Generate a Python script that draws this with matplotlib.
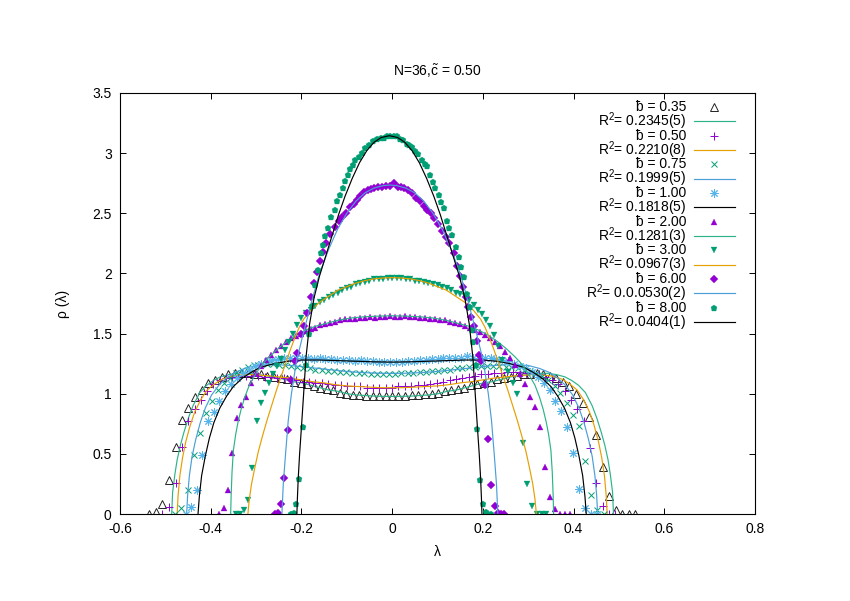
import matplotlib
matplotlib.use("Agg")
import matplotlib.pyplot as plt
from matplotlib.lines import Line2D

plt.rcParams['font.family'] = ['Liberation Sans', 'DejaVu Sans']
plt.rcParams['mathtext.fontset'] = 'custom'
plt.rcParams['mathtext.rm'] = 'Liberation Sans'
plt.rcParams['mathtext.it'] = 'Liberation Sans:italic'
plt.rcParams['mathtext.default'] = 'regular'
plt.rcParams['axes.unicode_minus'] = False

# ---------------- data ----------------
x_ticks = [-0.6, -0.4, -0.2, 0.0, 0.2, 0.4, 0.6, 0.8]
x_tick_labels = ["-0.6", "-0.4", "-0.2", "0", "0.2", "0.4", "0.6", "0.8"]
y_ticks = [0, 0.5, 1, 1.5, 2, 2.5, 3, 3.5]
y_tick_labels = ["0", "0.5", "1", "1.5", "2", "2.5", "3", "3.5"]

b_labels = ["0.35", "0.50", "0.75", "1.00", "2.00", "3.00", "6.00", "8.00"]
r2_labels = ["0.2345(5)", "0.2210(8)", "0.1999(5)", "0.1818(5)",
             "0.1281(3)", "0.0967(3)", "0.0.0530(2)", "0.0404(1)"]

# b = 0.35 (data)
lam_b035 = [-0.536, -0.521, -0.507, -0.492, -0.477, -0.463, -0.449, -0.434, -0.420, -0.405,
            -0.391, -0.376, -0.362, -0.347, -0.333, -0.318, -0.304, -0.289, -0.275, -0.260,
            -0.246, -0.231, -0.217, -0.202, -0.188, -0.173, -0.159, -0.144, -0.130, -0.115,
            -0.101, -0.087, -0.072, -0.058, -0.043, -0.029, -0.014, 0.000, 0.014, 0.029,
            0.043, 0.058, 0.072, 0.087, 0.101, 0.116, 0.130, 0.145, 0.159, 0.174,
            0.188, 0.203, 0.217, 0.232, 0.246, 0.261, 0.275, 0.290, 0.304, 0.319,
            0.333, 0.348, 0.362, 0.377, 0.391, 0.406, 0.420, 0.435, 0.449, 0.464,
            0.478, 0.493, 0.507, 0.522, 0.536]
rho_b035 = [0.00, 0.02, 0.08, 0.28, 0.56, 0.78, 0.88, 0.97, 1.03, 1.09,
            1.11, 1.14, 1.16, 1.17, 1.17, 1.17, 1.16, 1.16, 1.15, 1.14,
            1.13, 1.12, 1.10, 1.09, 1.08, 1.06, 1.05, 1.04, 1.03, 1.01,
            1.00, 0.99, 0.99, 0.98, 0.98, 0.98, 0.98, 0.98, 0.98, 0.98,
            0.99, 0.99, 1.00, 1.00, 1.01, 1.02, 1.03, 1.04, 1.05, 1.07,
            1.08, 1.09, 1.10, 1.12, 1.13, 1.14, 1.15, 1.16, 1.16, 1.17,
            1.16, 1.15, 1.13, 1.10, 1.06, 1.00, 0.92, 0.81, 0.66, 0.39,
            0.15, 0.03, 0.00, 0.00, 0.00]
# b = 0.35 (fit)
fit_lam_b035 = [-0.486, -0.484, -0.479, -0.474, -0.467, -0.459, -0.449, -0.439, -0.424, -0.409,
                -0.394, -0.379, -0.359, -0.339, -0.319, -0.299, -0.279, -0.259, -0.239, -0.219,
                -0.199, -0.179, -0.159, -0.139, -0.119, -0.099, -0.079, -0.059, -0.039, -0.019,
                0.001, 0.021, 0.041, 0.061, 0.081, 0.101, 0.121, 0.141, 0.161, 0.181,
                0.201, 0.221, 0.241, 0.261, 0.281, 0.301, 0.321, 0.341, 0.361, 0.381,
                0.396, 0.411, 0.426, 0.441, 0.451, 0.461, 0.469, 0.476, 0.481, 0.486, 0.488]
fit_rho_b035 = [0.00, 0.18, 0.33, 0.45, 0.57, 0.68, 0.80, 0.90, 1.01, 1.07,
                1.11, 1.14, 1.16, 1.17, 1.17, 1.16, 1.15, 1.14, 1.12, 1.10,
                1.09, 1.07, 1.05, 1.03, 1.02, 1.00, 0.99, 0.985, 0.98, 0.978,
                0.977, 0.978, 0.98, 0.985, 0.99, 1.00, 1.02, 1.03, 1.05, 1.07,
                1.09, 1.10, 1.12, 1.14, 1.15, 1.16, 1.17, 1.17, 1.16, 1.14,
                1.11, 1.07, 1.01, 0.90, 0.80, 0.68, 0.57, 0.45, 0.33, 0.18, 0.00]

# b = 0.50 (data)
lam_b050 = [-0.507, -0.492, -0.477, -0.463, -0.449, -0.435, -0.422, -0.408, -0.394, -0.380,
            -0.366, -0.352, -0.338, -0.323, -0.309, -0.295, -0.281, -0.267, -0.253, -0.239,
            -0.225, -0.211, -0.197, -0.183, -0.169, -0.155, -0.141, -0.127, -0.113, -0.099,
            -0.084, -0.070, -0.056, -0.042, -0.028, -0.014, 0.000, 0.014, 0.028, 0.042,
            0.056, 0.070, 0.084, 0.099, 0.113, 0.127, 0.141, 0.155, 0.169, 0.183,
            0.197, 0.211, 0.225, 0.239, 0.253, 0.267, 0.281, 0.295, 0.309, 0.323,
            0.338, 0.352, 0.366, 0.380, 0.394, 0.408, 0.422, 0.436, 0.450, 0.464,
            0.478, 0.492]
rho_b050 = [0.00, 0.06, 0.26, 0.56, 0.77, 0.87, 0.95, 1.02, 1.08, 1.11,
            1.13, 1.14, 1.15, 1.15, 1.15, 1.15, 1.14, 1.14, 1.13, 1.13,
            1.12, 1.11, 1.10, 1.10, 1.09, 1.09, 1.08, 1.07, 1.07, 1.06,
            1.06, 1.06, 1.05, 1.05, 1.05, 1.05, 1.05, 1.06, 1.06, 1.06,
            1.07, 1.07, 1.08, 1.09, 1.10, 1.11, 1.12, 1.13, 1.14, 1.15,
            1.16, 1.16, 1.17, 1.17, 1.18, 1.18, 1.18, 1.17, 1.17, 1.16,
            1.14, 1.11, 1.08, 1.02, 0.95, 0.87, 0.77, 0.55, 0.26, 0.07,
            0.00, 0.00]
# b = 0.50 (fit)
fit_lam_b050 = [-0.474, -0.472, -0.468, -0.462, -0.455, -0.445, -0.435, -0.422, -0.408, -0.392,
                -0.375, -0.355, -0.335, -0.315, -0.295, -0.275, -0.250, -0.225, -0.200, -0.175,
                -0.150, -0.125, -0.100, -0.075, -0.050, -0.025, 0.000, 0.025, 0.050, 0.075,
                0.100, 0.125, 0.150, 0.175, 0.200, 0.225, 0.250, 0.275, 0.295, 0.315,
                0.335, 0.355, 0.375, 0.392, 0.408, 0.422, 0.435, 0.445, 0.455, 0.462,
                0.468, 0.472, 0.474]
fit_rho_b050 = [0.00, 0.15, 0.32, 0.47, 0.60, 0.74, 0.85, 0.95, 1.03, 1.08,
                1.12, 1.145, 1.155, 1.16, 1.155, 1.15, 1.14, 1.13, 1.115, 1.10,
                1.09, 1.075, 1.065, 1.06, 1.055, 1.05, 1.05, 1.05, 1.055, 1.06,
                1.065, 1.075, 1.09, 1.10, 1.115, 1.13, 1.14, 1.15, 1.155, 1.16,
                1.155, 1.145, 1.12, 1.08, 1.03, 0.95, 0.85, 0.74, 0.60, 0.47,
                0.32, 0.15, 0.00]

# b = 0.75 (data)
lam_b075 = [-0.479, -0.465, -0.451, -0.437, -0.424, -0.411, -0.398, -0.385, -0.371, -0.358,
            -0.344, -0.331, -0.317, -0.304, -0.290, -0.277, -0.263, -0.250, -0.236, -0.223,
            -0.209, -0.196, -0.182, -0.169, -0.155, -0.142, -0.128, -0.115, -0.101, -0.088,
            -0.074, -0.061, -0.047, -0.034, -0.020, -0.007, 0.007, 0.020, 0.034, 0.047,
            0.061, 0.074, 0.088, 0.101, 0.115, 0.128, 0.142, 0.155, 0.169, 0.182,
            0.196, 0.209, 0.223, 0.236, 0.250, 0.263, 0.277, 0.290, 0.304, 0.317,
            0.331, 0.344, 0.358, 0.371, 0.385, 0.398, 0.412, 0.425, 0.439, 0.452,
            0.466]
rho_b075 = [0.00, 0.05, 0.20, 0.49, 0.67, 0.84, 0.94, 1.03, 1.09, 1.13,
            1.17, 1.20, 1.22, 1.24, 1.25, 1.25, 1.25, 1.24, 1.24, 1.23,
            1.22, 1.21, 1.21, 1.20, 1.20, 1.19, 1.19, 1.18, 1.18, 1.17,
            1.17, 1.17, 1.16, 1.16, 1.16, 1.16, 1.16, 1.17, 1.17, 1.17,
            1.18, 1.18, 1.19, 1.19, 1.20, 1.20, 1.21, 1.21, 1.22, 1.22,
            1.23, 1.23, 1.23, 1.23, 1.22, 1.22, 1.21, 1.20, 1.19, 1.17,
            1.15, 1.11, 1.06, 1.01, 0.92, 0.82, 0.73, 0.44, 0.16, 0.03,
            0.00]
# b = 0.75 (fit)
fit_lam_b075 = [-0.453, -0.451, -0.447, -0.441, -0.433, -0.423, -0.412, -0.398, -0.382, -0.365,
                -0.345, -0.325, -0.300, -0.275, -0.250, -0.225, -0.200, -0.175, -0.150, -0.125,
                -0.100, -0.075, -0.050, -0.025, 0.000, 0.025, 0.050, 0.075, 0.100, 0.125,
                0.150, 0.175, 0.200, 0.225, 0.250, 0.275, 0.300, 0.325, 0.345, 0.365,
                0.382, 0.398, 0.412, 0.423, 0.433, 0.441, 0.447, 0.451, 0.453]
fit_rho_b075 = [0.00, 0.15, 0.32, 0.48, 0.62, 0.76, 0.88, 0.99, 1.07, 1.13,
                1.18, 1.21, 1.235, 1.24, 1.24, 1.235, 1.225, 1.215, 1.205, 1.195,
                1.185, 1.178, 1.173, 1.17, 1.169, 1.17, 1.173, 1.178, 1.185, 1.195,
                1.205, 1.215, 1.225, 1.235, 1.24, 1.24, 1.235, 1.21, 1.18, 1.13,
                1.07, 0.99, 0.88, 0.76, 0.62, 0.48, 0.32, 0.15, 0.00]

# b = 1.00 (data)
lam_b100 = [-0.455, -0.443, -0.431, -0.419, -0.406, -0.393, -0.381, -0.368, -0.355, -0.342,
            -0.329, -0.316, -0.303, -0.290, -0.277, -0.264, -0.251, -0.238, -0.225, -0.212,
            -0.199, -0.186, -0.173, -0.160, -0.147, -0.134, -0.121, -0.108, -0.095, -0.082,
            -0.069, -0.056, -0.043, -0.030, -0.017, -0.004, 0.009, 0.022, 0.035, 0.048,
            0.061, 0.074, 0.087, 0.100, 0.113, 0.126, 0.139, 0.152, 0.165, 0.178,
            0.191, 0.204, 0.217, 0.230, 0.243, 0.256, 0.269, 0.282, 0.295, 0.308,
            0.321, 0.334, 0.347, 0.360, 0.373, 0.386, 0.399, 0.412, 0.425, 0.438,
            0.451]
rho_b100 = [0.00, 0.06, 0.20, 0.49, 0.77, 0.85, 0.94, 1.02, 1.08, 1.13,
            1.17, 1.20, 1.23, 1.25, 1.27, 1.28, 1.29, 1.30, 1.30, 1.30,
            1.30, 1.30, 1.29, 1.30, 1.29, 1.29, 1.28, 1.28, 1.28, 1.27,
            1.28, 1.27, 1.27, 1.26, 1.26, 1.26, 1.26, 1.26, 1.27, 1.27,
            1.28, 1.28, 1.29, 1.29, 1.30, 1.30, 1.30, 1.30, 1.31, 1.30,
            1.30, 1.30, 1.30, 1.29, 1.28, 1.27, 1.25, 1.23, 1.21, 1.18,
            1.14, 1.09, 1.03, 0.94, 0.86, 0.72, 0.51, 0.21, 0.05, 0.00,
            0.00]
# b = 1.00 (fit)
fit_lam_b100 = [-0.428, -0.425, -0.420, -0.412, -0.403, -0.393, -0.380, -0.365, -0.350, -0.330,
                -0.310, -0.290, -0.260, -0.230, -0.200, -0.160, -0.120, -0.080, -0.040, 0.000,
                0.040, 0.080, 0.120, 0.160, 0.200, 0.230, 0.260, 0.290, 0.310, 0.330,
                0.350, 0.365, 0.380, 0.393, 0.403, 0.412, 0.420, 0.425, 0.428]
fit_rho_b100 = [0.00, 0.15, 0.32, 0.48, 0.63, 0.76, 0.88, 0.98, 1.06, 1.13,
                1.18, 1.22, 1.25, 1.27, 1.28, 1.28, 1.275, 1.27, 1.265, 1.263,
                1.265, 1.27, 1.275, 1.28, 1.28, 1.27, 1.25, 1.22, 1.18, 1.13,
                1.06, 0.98, 0.88, 0.76, 0.63, 0.48, 0.32, 0.15, 0.00]

# b = 2.00 (data)
lam_b200 = [-0.382, -0.371, -0.362, -0.352, -0.343, -0.333, -0.323, -0.312, -0.301, -0.290,
            -0.279, -0.268, -0.257, -0.246, -0.235, -0.224, -0.213, -0.202, -0.191, -0.180,
            -0.169, -0.158, -0.147, -0.136, -0.125, -0.114, -0.103, -0.092, -0.081, -0.070,
            -0.059, -0.048, -0.037, -0.026, -0.015, -0.004, 0.007, 0.018, 0.029, 0.040,
            0.051, 0.062, 0.073, 0.084, 0.095, 0.106, 0.117, 0.128, 0.139, 0.150,
            0.161, 0.172, 0.183, 0.194, 0.205, 0.216, 0.227, 0.238, 0.249, 0.260,
            0.271, 0.282, 0.293, 0.304, 0.315, 0.326, 0.337, 0.348, 0.359, 0.370,
            0.381, 0.392]
rho_b200 = [0.00, 0.05, 0.20, 0.51, 0.80, 0.91, 0.97, 1.09, 1.17, 1.23,
            1.28, 1.32, 1.36, 1.40, 1.43, 1.46, 1.48, 1.50, 1.52, 1.54,
            1.55, 1.57, 1.58, 1.59, 1.60, 1.61, 1.62, 1.62, 1.62, 1.63,
            1.63, 1.64, 1.63, 1.64, 1.64, 1.65, 1.64, 1.64, 1.65, 1.64,
            1.64, 1.63, 1.63, 1.62, 1.62, 1.61, 1.61, 1.60, 1.59, 1.58,
            1.56, 1.55, 1.53, 1.51, 1.49, 1.46, 1.43, 1.40, 1.35, 1.30,
            1.24, 1.16, 1.08, 0.97, 0.89, 0.72, 0.39, 0.14, 0.04, 0.00,
            0.00, 0.00]
# b = 2.00 (fit)
fit_lam_b200 = [-0.356, -0.355, -0.353, -0.350, -0.345, -0.340, -0.333, -0.325, -0.315, -0.300,
                -0.285, -0.270, -0.250, -0.230, -0.210, -0.190, -0.170, -0.150, -0.120, -0.090,
                -0.060, -0.030, 0.000, 0.030, 0.060, 0.090, 0.120, 0.150, 0.170, 0.190,
                0.210, 0.230, 0.250, 0.270, 0.285, 0.300, 0.315, 0.325, 0.333, 0.340,
                0.345, 0.350, 0.353, 0.355, 0.356]
fit_rho_b200 = [0.00, 0.15, 0.35, 0.53, 0.66, 0.76, 0.87, 0.97, 1.07, 1.17,
                1.25, 1.31, 1.38, 1.44, 1.49, 1.53, 1.56, 1.58, 1.61, 1.63,
                1.64, 1.645, 1.648, 1.645, 1.64, 1.63, 1.61, 1.58, 1.56, 1.53,
                1.49, 1.44, 1.38, 1.31, 1.25, 1.17, 1.07, 0.97, 0.87, 0.76,
                0.66, 0.53, 0.35, 0.15, 0.00]

# b = 3.00 (data)
lam_b300 = [-0.345, -0.335, -0.327, -0.318, -0.308, -0.299, -0.290, -0.281, -0.272, -0.263,
            -0.254, -0.245, -0.236, -0.227, -0.218, -0.209, -0.200, -0.190, -0.180, -0.170,
            -0.160, -0.150, -0.140, -0.130, -0.120, -0.110, -0.100, -0.090, -0.080, -0.070,
            -0.060, -0.050, -0.040, -0.030, -0.020, -0.010, 0.000, 0.010, 0.020, 0.030,
            0.040, 0.050, 0.060, 0.070, 0.080, 0.090, 0.100, 0.110, 0.120, 0.130,
            0.140, 0.150, 0.160, 0.170, 0.180, 0.190, 0.198, 0.207, 0.216, 0.225,
            0.234, 0.243, 0.255, 0.267, 0.276, 0.289, 0.298, 0.309, 0.320, 0.330,
            0.340]
rho_b300 = [0.00, 0.00, 0.03, 0.12, 0.38, 0.77, 0.92, 1.01, 1.09, 1.16,
            1.23, 1.29, 1.36, 1.43, 1.50, 1.57, 1.63, 1.67, 1.70, 1.73,
            1.76, 1.78, 1.80, 1.82, 1.84, 1.86, 1.88, 1.89, 1.91, 1.92,
            1.93, 1.94, 1.95, 1.95, 1.95, 1.96, 1.96, 1.96, 1.96, 1.95,
            1.95, 1.94, 1.94, 1.93, 1.92, 1.91, 1.90, 1.89, 1.88, 1.86,
            1.84, 1.83, 1.81, 1.78, 1.74, 1.70, 1.66, 1.61, 1.56, 1.49,
            1.40, 1.28, 1.18, 1.09, 1.00, 0.59, 0.25, 0.07, 0.00, 0.00,
            0.00]
# b = 3.00 (fit)
fit_lam_b300 = [-0.318, -0.315, -0.310, -0.303, -0.295, -0.285, -0.275, -0.265, -0.255, -0.245,
                -0.235, -0.225, -0.215, -0.205, -0.195, -0.180, -0.160, -0.140, -0.120, -0.100,
                -0.080, -0.060, -0.040, -0.020, 0.000, 0.020, 0.040, 0.060, 0.080, 0.100,
                0.120, 0.140, 0.160, 0.180, 0.195, 0.205, 0.215, 0.225, 0.235, 0.245,
                0.255, 0.265, 0.275, 0.285, 0.295, 0.303, 0.310, 0.315, 0.318]
fit_rho_b300 = [0.00, 0.12, 0.25, 0.38, 0.52, 0.66, 0.79, 0.91, 1.03, 1.14,
                1.25, 1.36, 1.46, 1.55, 1.62, 1.69, 1.76, 1.81, 1.86, 1.89,
                1.92, 1.94, 1.955, 1.962, 1.965, 1.962, 1.955, 1.94, 1.92, 1.89,
                1.86, 1.81, 1.76, 1.69, 1.62, 1.55, 1.46, 1.36, 1.25, 1.14,
                1.03, 0.91, 0.79, 0.66, 0.52, 0.38, 0.25, 0.12, 0.00]

# b = 6.00 (data)
lam_b600 = [-0.258, -0.252, -0.245, -0.238, -0.230, -0.224, -0.215, -0.209, -0.202, -0.195,
            -0.188, -0.180, -0.172, -0.165, -0.158, -0.152, -0.146, -0.136, -0.126, -0.117,
            -0.110, -0.102, -0.092, -0.085, -0.077, -0.070, -0.062, -0.054, -0.047, -0.040,
            -0.031, -0.022, -0.013, -0.004, 0.004, 0.012, 0.019, 0.026, 0.035, 0.044,
            0.053, 0.062, 0.070, 0.077, 0.085, 0.092, 0.101, 0.110, 0.118, 0.125,
            0.136, 0.143, 0.150, 0.156, 0.162, 0.167, 0.174, 0.180, 0.186, 0.192,
            0.197, 0.204, 0.212, 0.219, 0.226, 0.233, 0.240, 0.247]
rho_b600 = [0.00, 0.01, 0.08, 0.30, 0.70, 1.11, 1.27, 1.34, 1.50, 1.56,
            1.67, 1.80, 1.92, 2.01, 2.10, 2.18, 2.25, 2.33, 2.39, 2.44,
            2.47, 2.50, 2.55, 2.58, 2.61, 2.64, 2.68, 2.69, 2.70, 2.71,
            2.72, 2.72, 2.73, 2.73, 2.75, 2.72, 2.72, 2.71, 2.69, 2.67,
            2.63, 2.60, 2.56, 2.53, 2.50, 2.46, 2.41, 2.35, 2.30, 2.25,
            2.17, 2.06, 1.98, 1.89, 1.80, 1.72, 1.64, 1.56, 1.44, 1.32,
            1.27, 1.07, 0.62, 0.24, 0.07, 0.01, 0.00, 0.00]
# b = 6.00 (fit)
fit_lam_b600 = [-0.243, -0.240, -0.235, -0.229, -0.222, -0.211, -0.196, -0.178, -0.160, -0.140,
                -0.120, -0.100, -0.080, -0.060, -0.040, -0.020, -0.005, 0.010, 0.030, 0.050,
                0.070, 0.090, 0.110, 0.130, 0.150, 0.168, 0.186, 0.201, 0.212, 0.219,
                0.225, 0.230, 0.233]
fit_rho_b600 = [0.00, 0.25, 0.50, 0.78, 1.00, 1.27, 1.50, 1.76, 2.00, 2.20,
                2.37, 2.50, 2.60, 2.67, 2.71, 2.73, 2.735, 2.73, 2.71, 2.67,
                2.60, 2.50, 2.37, 2.20, 2.00, 1.76, 1.50, 1.27, 1.00, 0.78,
                0.50, 0.25, 0.00]

# b = 8.00 (data)
lam_b800 = [-0.223, -0.217, -0.211, -0.205, -0.197, -0.190, -0.183, -0.176, -0.169, -0.163,
            -0.157, -0.152, -0.147, -0.141, -0.134, -0.127, -0.121, -0.116, -0.109, -0.103,
            -0.097, -0.092, -0.086, -0.081, -0.073, -0.066, -0.059, -0.051, -0.042, -0.033,
            -0.025, -0.018, -0.011, -0.004, 0.003, 0.010, 0.017, 0.024, 0.032, 0.038,
            0.043, 0.050, 0.057, 0.066, 0.072, 0.077, 0.084, 0.090, 0.095, 0.103,
            0.108, 0.114, 0.121, 0.126, 0.132, 0.140, 0.147, 0.152, 0.158, 0.165,
            0.172, 0.176, 0.178, 0.184, 0.188, 0.193, 0.200, 0.206, 0.212, 0.218]
rho_b800 = [0.00, 0.01, 0.08, 0.29, 0.72, 1.24, 1.50, 1.73, 1.90, 2.03,
            2.17, 2.24, 2.31, 2.38, 2.47, 2.53, 2.60, 2.65, 2.71, 2.77,
            2.82, 2.87, 2.90, 2.94, 2.97, 3.00, 3.04, 3.07, 3.10, 3.12,
            3.13, 3.13, 3.14, 3.14, 3.14, 3.14, 3.12, 3.11, 3.08, 3.07,
            3.05, 3.02, 2.99, 2.94, 2.91, 2.89, 2.82, 2.76, 2.71, 2.65,
            2.59, 2.54, 2.44, 2.38, 2.32, 2.22, 2.14, 2.05, 1.97, 1.83,
            1.72, 1.53, 1.43, 1.24, 0.71, 0.28, 0.08, 0.02, 0.00, 0.00]
# b = 8.00 (fit)
fit_lam_b800 = [-0.210, -0.209, -0.207, -0.204, -0.200, -0.196, -0.190, -0.182, -0.172, -0.160,
                -0.146, -0.132, -0.118, -0.104, -0.088, -0.072, -0.056, -0.040, -0.024, -0.006,
                0.012, 0.028, 0.044, 0.060, 0.076, 0.092, 0.106, 0.120, 0.134, 0.148,
                0.160, 0.170, 0.178, 0.184, 0.188, 0.192, 0.195, 0.197, 0.198]
fit_rho_b800 = [0.00, 0.12, 0.30, 0.50, 0.72, 0.95, 1.30, 1.58, 1.80, 1.98,
                2.15, 2.32, 2.49, 2.64, 2.79, 2.92, 3.02, 3.09, 3.13, 3.145,
                3.13, 3.09, 3.02, 2.92, 2.79, 2.64, 2.49, 2.32, 2.15, 1.98,
                1.80, 1.58, 1.30, 0.95, 0.72, 0.50, 0.30, 0.12, 0.00]

# ---------------- styles ----------------
PURPLE = '#9400d3'
GREEN = '#009e73'
SKY = '#56b4e9'
ORANGE = '#e69f00'
BLUE = '#4a9fd8'
TEAL = '#2db38a'

series = [
    (lam_b035, rho_b035, fit_lam_b035, fit_rho_b035,
     dict(marker='^', ms=5.5, mfc='none', mec='#222222', mew=0.7), TEAL),
    (lam_b050, rho_b050, fit_lam_b050, fit_rho_b050,
     dict(marker='+', ms=6, mec=PURPLE, mew=0.7), ORANGE),
    (lam_b075, rho_b075, fit_lam_b075, fit_rho_b075,
     dict(marker='x', ms=4.8, mec=GREEN, mew=0.7), BLUE),
    (lam_b100, rho_b100, fit_lam_b100, fit_rho_b100,
     dict(marker=(8, 2, 0), ms=6, mec=SKY, mew=0.7), 'black'),
    (lam_b200, rho_b200, fit_lam_b200, fit_rho_b200,
     dict(marker='^', ms=5, mfc=PURPLE, mec=PURPLE, mew=0.2), TEAL),
    (lam_b300, rho_b300, fit_lam_b300, fit_rho_b300,
     dict(marker='v', ms=5, mfc=GREEN, mec=GREEN, mew=0.2), ORANGE),
    (lam_b600, rho_b600, fit_lam_b600, fit_rho_b600,
     dict(marker='D', ms=3.8, mfc=PURPLE, mec=PURPLE, mew=0.2), BLUE),
    (lam_b800, rho_b800, fit_lam_b800, fit_rho_b800,
     dict(marker='p', ms=4.8, mfc=GREEN, mec=GREEN, mew=0.2), 'black'),
]

fig = plt.figure(figsize=(8.5, 6.01), dpi=100)
ax = fig.add_axes([120 / 850, 87 / 601, 635 / 850, 421 / 601])

for lx, ly, fx, fy, mstyle, lcol in series:
    ax.plot(lx, ly, linestyle='none', **mstyle)
    ax.plot(fx, fy, color=lcol, lw=0.85)

ax.set_xlim(-0.6, 0.8)
ax.set_ylim(0, 3.5)
ax.set_xticks(x_ticks)
ax.set_xticklabels(x_tick_labels, fontsize=10)
ax.set_yticks(y_ticks)
ax.set_yticklabels(y_tick_labels, fontsize=10)
ax.tick_params(direction='in', length=4.5, width=0.7, top=True, right=True, pad=6)
for sp in ax.spines.values():
    sp.set_linewidth(0.8)

ax.set_xlabel('λ', fontsize=10, labelpad=6)
ax.set_ylabel('ρ (λ)', fontsize=10, labelpad=16)
ax.set_title(r'N=36,$\tilde{c}$ = 0.50', fontsize=10, pad=12)

# legend (gnuplot style: right-justified labels, sample on the right)
row0 = (514 - 107) / 421
drow = 14.33 / 421
tx = (686 - 120) / 635
mx = (714 - 120) / 635
lx0, lx1 = (694 - 120) / 635, (735 - 120) / 635
for i, (lx, ly, fx, fy, mstyle, lcol) in enumerate(series):
    y1 = row0 - (2 * i) * drow
    y2 = row0 - (2 * i + 1) * drow
    ax.text(tx, y1, '\u0180 = ' + b_labels[i], transform=ax.transAxes,
            ha='right', va='center', fontsize=10)
    ax.add_line(Line2D([mx], [y1], transform=ax.transAxes, linestyle='none', **mstyle))
    ax.text(tx, y2, 'R$^2$= ' + r2_labels[i], transform=ax.transAxes,
            ha='right', va='center', fontsize=10)
    ax.add_line(Line2D([lx0, lx1], [y2, y2], transform=ax.transAxes, color=lcol, lw=0.85))

fig.savefig('out.png', dpi=100)
